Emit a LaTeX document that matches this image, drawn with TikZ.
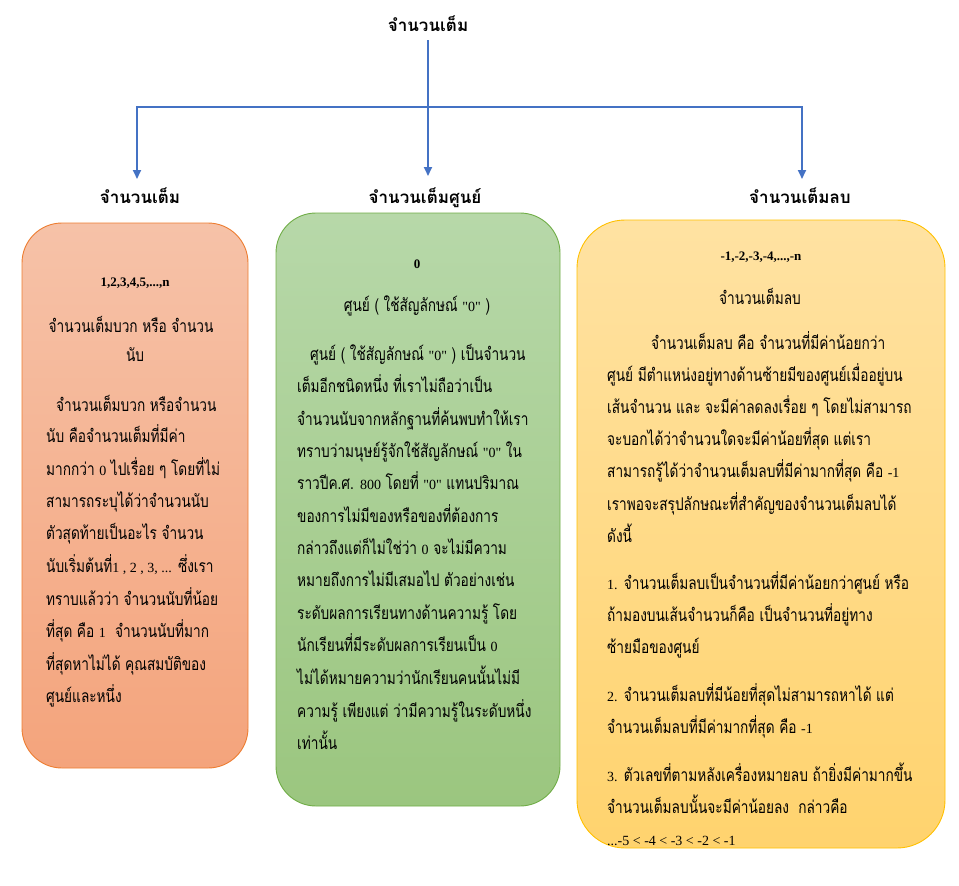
\documentclass[tikz,border=0pt]{standalone}
\usepackage{fontspec}
\usetikzlibrary{arrows.meta}
\setmainfont{Loma}[Script=Thai]
\newfontfamily\bodyfont{Loma}[Script=Thai,FakeStretch=0.78]
\newfontfamily\lat{Liberation Serif}
% Latin figures set inside the Thai body text
\newcommand\numtxt[1]{{\lat\fontsize{14}{16}\selectfont #1}}
\definecolor{linkblue}{HTML}{4472C4}
\definecolor{orangeedge}{HTML}{ED7D31}
\definecolor{orangetop}{HTML}{F6C2A8}
\definecolor{orangebot}{HTML}{F4A47C}
\definecolor{greenedge}{HTML}{70AD47}
\definecolor{greentop}{HTML}{B7D8A9}
\definecolor{greenbot}{HTML}{9BC67F}
\definecolor{goldedge}{HTML}{FFC000}
\definecolor{goldtop}{HTML}{FFE2A2}
\definecolor{goldbot}{HTML}{FFD36E}
\tikzset{
  txt/.style={inner sep=0pt, anchor=base west, font=\bodyfont\fontsize{17.5}{20}\selectfont},
  ctxt/.style={txt, anchor=base},
  numhead/.style={inner sep=0pt, anchor=base, font=\lat\bfseries\fontsize{13}{16}\selectfont},
  hdr/.style={inner sep=0pt, anchor=base, font=\bfseries\fontsize{17}{20}\selectfont},
  wire/.style={draw=linkblue, line width=1.8pt},
  flow/.style={wire, -{Triangle[width=8pt,length=9pt]}},
  card/.style={rectangle, rounded corners=40pt, line width=0.9pt, inner sep=0pt}
}
\begin{document}
\begin{tikzpicture}[x=1pt,y=-1pt]
\useasboundingbox (0,0) rectangle (959,886);

% cards
\node[card, draw=orangeedge, top color=orangetop, bottom color=orangebot,
      minimum width=226pt, minimum height=545pt] (boxL) at (135,495.5) {};
\node[card, draw=greenedge, top color=greentop, bottom color=greenbot,
      minimum width=284pt, minimum height=593pt] (boxM) at (418,509.5) {};
\node[card, draw=goldedge, top color=goldtop, bottom color=goldbot, rounded corners=48pt,
      minimum width=368pt, minimum height=628pt] (boxR) at (761,534) {};

% tree
\node[hdr] (title) at (428,31) {จำนวนเต็ม};
\node[hdr] (hL) at (140,203) {จำนวนเต็ม};
\node[hdr] (hM) at (425,203) {จำนวนเต็มศูนย์};
\node[hdr] (hR) at (800,203) {จำนวนเต็มลบ};
\coordinate (top) at (428,40);
\coordinate (jL) at (137,107);
\coordinate (jR) at (802,107);
\coordinate (tL) at (137,179);
\coordinate (tM) at (428,176);
\coordinate (tR) at (802,179);
\draw[wire] ([xshift=-0.9pt]jL) -- ([xshift=0.9pt]jR);
\draw[flow] (top) -- (tM);
\draw[flow] (jL) -- (tL);
\draw[flow] (jR) -- (tR);

% positive integers
\node[numhead] (l0) at (135,286) {1,2,3,4,5,...,n};
\node[ctxt] (l1) at (131,332) {จำนวนเต็มบวก หรือ จำนวน};
\node[ctxt] (l2) at (135,361) {นับ};
\node[txt] (l3) at (56,411) {จำนวนเต็มบวก หรือจำนวน};
\node[txt] (l4) at (46,442) {นับ คือจำนวนเต็มที่มีค่า};
\node[txt] (l5) at (46,475) {มากกว่า \numtxt{0} ไปเรื่อย ๆ โดยที่ไม่};
\node[txt] (l6) at (46,507) {สามารถระบุได้ว่าจำนวนนับ};
\node[txt] (l7) at (46,539) {ตัวสุดท้ายเป็นอะไร จำนวน};
\node[txt] (l8) at (46,572) {นับเริ่มต้นที่\numtxt{1 , 2 , 3, ...} ซึ่งเรา};
\node[txt] (l9) at (46,605) {ทราบแล้วว่า จำนวนนับที่น้อย};
\node[txt] (l10) at (46,637) {ที่สุด คือ \numtxt{1}\ \ จำนวนนับที่มาก};
\node[txt] (l11) at (46,670) {ที่สุดหาไม่ได้ คุณสมบัติของ};
\node[txt] (l12) at (46,702) {ศูนย์และหนึ่ง};

% zero
\node[numhead] (m0) at (417,268) {0};
\node[ctxt] (m1) at (417,311) {ศูนย์ ( ใช้สัญลักษณ์ \numtxt{"0"} )};
\node[txt] (m2) at (310,360) {ศูนย์ ( ใช้สัญลักษณ์ \numtxt{"0"} ) เป็นจำนวน};
\node[txt] (m3) at (297,392) {เต็มอีกชนิดหนึ่ง ที่เราไม่ถือว่าเป็น};
\node[txt] (m4) at (297,425) {จำนวนนับจากหลักฐานที่ค้นพบทำให้เรา};
\node[txt] (m5) at (297,457) {ทราบว่ามนุษย์รู้จักใช้สัญลักษณ์ \numtxt{"0"} ใน};
\node[txt] (m6) at (297,489) {ราวปีค.ศ. \numtxt{800} โดยที่ \numtxt{"0"} แทนปริมาณ};
\node[txt] (m7) at (297,522) {ของการไม่มีของหรือของที่ต้องการ};
\node[txt] (m8) at (297,554) {กล่าวถึงแต่ก็ไม่ใช่ว่า \numtxt{0} จะไม่มีความ};
\node[txt] (m9) at (297,586) {หมายถึงการไม่มีเสมอไป ตัวอย่างเช่น};
\node[txt] (m10) at (297,619) {ระดับผลการเรียนทางด้านความรู้ โดย};
\node[txt] (m11) at (297,651) {นักเรียนที่มีระดับผลการเรียนเป็น \numtxt{0}};
\node[txt] (m12) at (297,684) {ไม่ได้หมายความว่านักเรียนคนนั้นไม่มี};
\node[txt] (m13) at (297,717) {ความรู้ เพียงแต่ ว่ามีความรู้ในระดับหนึ่ง};
\node[txt] (m14) at (297,749) {เท่านั้น};

% negative integers
\node[numhead] (r0) at (761,260) {-1,-2,-3,-4,...,-n};
\node[ctxt] (r1) at (760,304) {จำนวนเต็มลบ};
\node[txt] (r2) at (651,349) {จำนวนเต็มลบ คือ จำนวนที่มีค่าน้อยกว่า};
\node[txt] (r3) at (607,381) {ศูนย์ มีตำแหน่งอยู่ทางด้านซ้ายมีของศูนย์เมื่ออยู่บน};
\node[txt] (r4) at (607,413) {เส้นจำนวน และ จะมีค่าลดลงเรื่อย ๆ โดยไม่สามารถ};
\node[txt] (r5) at (607,445) {จะบอกได้ว่าจำนวนใดจะมีค่าน้อยที่สุด แต่เรา};
\node[txt] (r6) at (607,477) {สามารถรู้ได้ว่าจำนวนเต็มลบที่มีค่ามากที่สุด คือ \numtxt{-1}};
\node[txt] (r7) at (607,510) {เราพอจะสรุปลักษณะที่สำคัญของจำนวนเต็มลบได้};
\node[txt] (r8) at (607,542) {ดังนี้};
\node[txt] (r9) at (607,589) {\numtxt{1.} จำนวนเต็มลบเป็นจำนวนที่มีค่าน้อยกว่าศูนย์ หรือ};
\node[txt] (r10) at (607,621) {ถ้ามองบนเส้นจำนวนก็คือ เป็นจำนวนที่อยู่ทาง};
\node[txt] (r11) at (607,653) {ซ้ายมือของศูนย์};
\node[txt] (r12) at (607,701) {\numtxt{2.} จำนวนเต็มลบที่มีน้อยที่สุดไม่สามารถหาได้ แต่};
\node[txt] (r13) at (607,733) {จำนวนเต็มลบที่มีค่ามากที่สุด คือ \numtxt{-1}};
\node[txt] (r14) at (607,781) {\numtxt{3.} ตัวเลขที่ตามหลังเครื่องหมายลบ ถ้ายิ่งมีค่ามากขึ้น};
\node[txt] (r15) at (607,813) {จำนวนเต็มลบนั้นจะมีค่าน้อยลง\ \ กล่าวคือ};
\node[txt] (r16) at (607,845) {\numtxt{...-5 < -4 < -3 < -2 < -1}};
\end{tikzpicture}
\end{document}
